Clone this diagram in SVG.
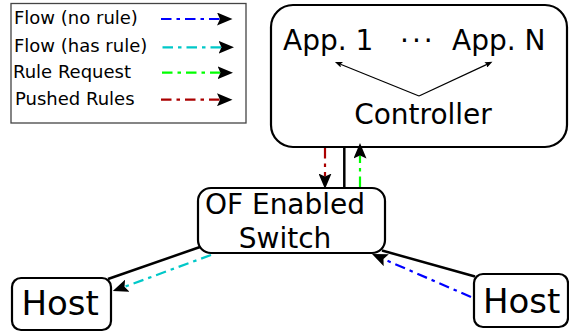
<svg xmlns="http://www.w3.org/2000/svg" width="569" height="332" viewBox="0 0 569 332">
<style>
text{font-family:"DejaVu Sans","Liberation Sans",sans-serif;fill:#000}
.leg{font-size:18px}
.big{font-size:28px}
.host{font-size:34px}
.box{fill:#fff;stroke:#000;stroke-width:2.2}
.dd{fill:none;stroke-width:2.2;stroke-dasharray:10.5 5 3.5 5}
.solid{fill:none;stroke:#000;stroke-width:2.5}
.thin{fill:none;stroke:#000;stroke-width:1.2}
</style>
<defs>
<marker id="ah" markerUnits="userSpaceOnUse" markerWidth="16" markerHeight="13" viewBox="0 0 16 13" refX="3" refY="6.5" orient="auto">
<path d="M0,0 L15.5,6.5 L0,13 L3,6.5 z" fill="#000"/>
</marker>
<marker id="as" markerUnits="userSpaceOnUse" markerWidth="8" markerHeight="6" viewBox="0 0 8 6" refX="1.5" refY="3" orient="auto">
<path d="M0,0 L7.5,3 L0,6 L1.5,3 z" fill="#000"/>
</marker>
</defs>

<g id="legend">
<rect x="11" y="3.5" width="235" height="119.5" fill="#fff" stroke="#444" stroke-width="1.3"/>
<text class="leg" x="14" y="24">Flow (no rule)</text>
<text class="leg" x="14" y="52">Flow (has rule)</text>
<text class="leg" x="13" y="77.5">Rule Request</text>
<text class="leg" x="15" y="105">Pushed Rules</text>
<line class="dd" x1="161" y1="19" x2="220" y2="19" stroke="#0000ff" marker-end="url(#ah)"/>
<line class="dd" x1="162.5" y1="47.3" x2="221.5" y2="47.3" stroke="#00c8c8" marker-end="url(#ah)"/>
<line class="dd" x1="162" y1="72.7" x2="220.5" y2="72.7" stroke="#00ff00" marker-end="url(#ah)"/>
<line class="dd" x1="161" y1="99.7" x2="220" y2="99.7" stroke="#aa0000" marker-end="url(#ah)"/>
</g>

<g id="controller">
<rect class="box" x="271" y="5" width="296" height="142" rx="22"/>
<text class="big" x="283" y="50">App. 1</text>
<text class="big" x="400" y="50" style="letter-spacing:3px">···</text>
<text class="big" x="452" y="50">App. N</text>
<text class="big" x="423" y="124" text-anchor="middle">Controller</text>
<line class="thin" x1="419" y1="96" x2="340.5" y2="64.2" marker-end="url(#as)"/>
<line class="thin" x1="419" y1="96" x2="487" y2="64.4" marker-end="url(#as)"/>
</g>

<g id="switch">
<rect class="box" x="198" y="188" width="187" height="65" rx="13"/>
<text class="big" x="285" y="213.5" text-anchor="middle">OF Enabled</text>
<text class="big" x="285" y="248" text-anchor="middle">Switch</text>
</g>

<g id="host-left">
<rect class="box" x="12" y="278" width="99" height="52" rx="9"/>
<text class="host" x="21.5" y="315">Host</text>
</g>

<g id="host-right">
<rect class="box" x="474" y="274" width="94" height="53" rx="9"/>
<text class="host" x="483" y="313">Host</text>
</g>

<g id="connectors">
<line class="dd" x1="325" y1="148" x2="325" y2="176.5" stroke="#aa0000" marker-end="url(#ah)"/>
<line class="solid" x1="344.3" y1="148" x2="344.3" y2="187"/>
<line class="dd" x1="360" y1="187" x2="360" y2="155.5" stroke="#00ff00" marker-end="url(#ah)"/>
<line class="solid" x1="200" y1="247" x2="108" y2="279"/>
<line class="dd" x1="211" y1="255" x2="124.5" y2="286.8" stroke="#00c8c8" marker-end="url(#ah)"/>
<line class="solid" x1="382" y1="250.5" x2="475" y2="276.5"/>
<line class="dd" x1="471" y1="297" x2="383.5" y2="259" stroke="#0000ff" marker-end="url(#ah)"/>
</g>
</svg>
